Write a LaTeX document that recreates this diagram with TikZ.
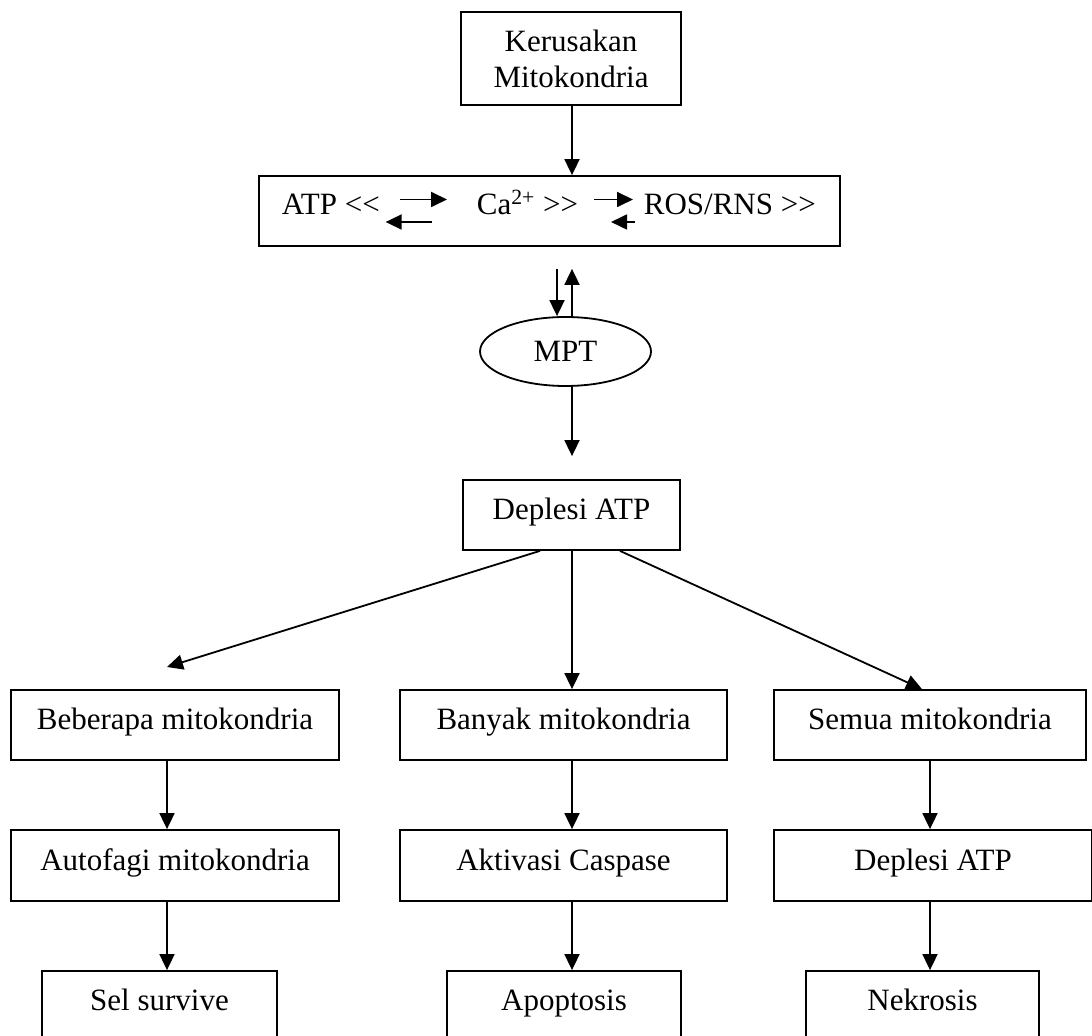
\documentclass[tikz,border=0pt]{standalone}
\usepackage{fontspec}
\setmainfont{Liberation Serif}
\usetikzlibrary{arrows.meta,shapes.geometric,positioning}

\begin{document}
\begin{tikzpicture}[x=0.5pt, y=-0.5pt, line width=0.9pt,
       >={Triangle[length=8pt,width=7.5pt]},
       every node/.style={font=\fontsize{15.5}{18}\selectfont},
       basebox/.style 2 args = {rectangle, draw, minimum width=#1, minimum height=#2,
                                inner sep=0pt},
       flowbox/.style 2 args = {basebox={#1}{#2}, text height=8pt, text depth=3.5pt},
       mptoval/.style = {ellipse, draw, minimum width=85.5pt, minimum height=34.5pt,
                         inner sep=0pt},
       inlabel/.style = {inner sep=0pt, anchor=base west}]
	\useasboundingbox (0,0) rectangle (1092,1036);
	\clip (0,0) rectangle (1092,1036);

	%% Connector columns
	\coordinate (colL) at (167,0);
	\coordinate (colD) at (557,0);
	\coordinate (colM) at (572,0);
	\coordinate (colS) at (922,0);
	\coordinate (colR) at (930,0);

	%% Mitochondrial damage
	\node [basebox={110pt}{46.5pt}, align=center] (damage) at (571,58.5) {Kerusakan\\Mitokondria};

	%% Ions and radicals
	\node [basebox={290.5pt}{35pt}] (ions) at (549.5,211) {};
	\node [inlabel] (atp) at (281,215) {ATP <\kern0pt<};
	\node [inlabel] (ca) at (476,215) {Ca\textsuperscript{2+} >\kern0pt>};
	\node [inlabel] (ros) at (643,215) {ROS/RNS >\kern0pt>};

	%% Permeability transition
	\node [mptoval] (mpt) at (565.5,351.5) {MPT};

	%% ATP depletion
	\node [flowbox={108.5pt}{35pt}] (depl) at (571.5,515) {Deplesi ATP};

	%% Three outcomes
	\node [flowbox={164pt}{35pt}] (some) at (175,725) {Beberapa mitokondria};
	\node [flowbox={163.5pt}{35pt}] (many) at (563.5,725) {Banyak mitokondria};
	\node [flowbox={156pt}{35pt}] (all) at (930,725) {Semua mitokondria};

	\node [flowbox={164pt}{35.5pt}] (autophagy) at (175,865.5) {Autofagi mitokondria};
	\node [flowbox={163.5pt}{35.5pt}] (caspase) at (563.5,865.5) {Aktivasi Caspase};
	\node [flowbox={159pt}{35.5pt}] (atploss) at (933,865.5) {Deplesi ATP};

	\node [flowbox={117.5pt}{35pt}] (survive) at (159.5,1006) {Sel survive};
	\node [flowbox={117pt}{35pt}] (apoptosis) at (564,1006) {Apoptosis};
	\node [flowbox={116.5pt}{35pt}] (necrosis) at (922.5,1006) {Nekrosis};

	%% Paths inside the ion box
	\draw[->] ([xshift=9.5pt,yshift=7.75pt]atp.base east) -- ([xshift=-14.5pt,yshift=7.75pt]ca.base west);
	\draw[->] ([xshift=-22pt,yshift=-3.5pt]ca.base west) -- ([xshift=2.5pt,yshift=-3.5pt]atp.base east);
	\draw[->] ([xshift=7.5pt,yshift=7.75pt]ca.base east) -- ([xshift=-5pt,yshift=7.75pt]ros.base west);
	\draw[->] ([xshift=-4pt,yshift=-3.5pt]ros.base west) -- ([xshift=16pt,yshift=-3.5pt]ca.base east);

	%% Main chain
	\draw[->] (damage.south -| colM) -- (ions.north -| colM);
	\draw[->, shorten <=11pt] (ions.south -| colD) -- (mpt.north -| colD);
	\draw[->, shorten >=11pt] (mpt.north -| colM) -- (ions.south -| colM);
	\draw[->, shorten >=11.5pt] (mpt.south -| colM) -- (depl.north -| colM);

	%% Branches
	\coordinate (someTip) at (167,667);
	\draw[->] ([xshift=-15.75pt]depl.south) -- (someTip);
	\draw[->] (depl.south -| colM) -- (many.north -| colM);
	\draw[->] ([xshift=24.25pt]depl.south) -- (all.north -| colS);

	%% Columns
	\draw[->] (some.south -| colL) -- (autophagy.north -| colL);
	\draw[->] (many.south -| colM) -- (caspase.north -| colM);
	\draw[->] (all.south -| colR) -- (atploss.north -| colR);
	\draw[->] (autophagy.south -| colL) -- (survive.north -| colL);
	\draw[->] (caspase.south -| colM) -- (apoptosis.north -| colM);
	\draw[->] (atploss.south -| colR) -- (necrosis.north -| colR);
\end{tikzpicture}
\end{document}
